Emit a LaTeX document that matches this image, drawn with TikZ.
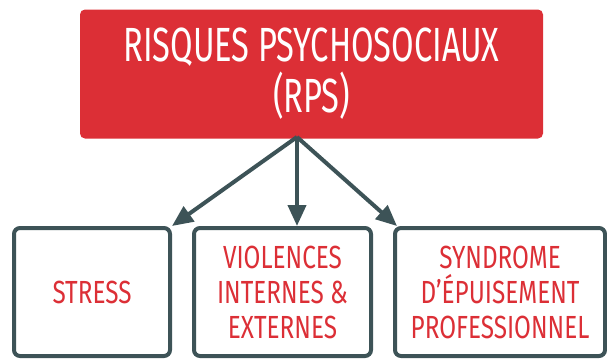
\documentclass[tikz,border=0pt]{standalone}
\usepackage{fontspec}
\setmainfont{Fira Sans}[FakeStretch=0.68]
\newfontfamily\riskfont{Fira Sans}[FakeStretch=0.76]
\usetikzlibrary{arrows.meta}
\definecolor{rpsred}{HTML}{DC2F36}
\definecolor{slate}{HTML}{3D5357}

\begin{document}
\begin{tikzpicture}[x=1pt, y=-1pt,
		mainbox/.style={rectangle, rounded corners=5pt, fill=rpsred, text=white, align=center, font=\fontsize{48}{51}\selectfont},
		riskbox/.style={rectangle, rounded corners=6pt, draw=slate, line width=4pt, fill=white, text=rpsred, align=center, minimum height=128pt, font=\riskfont\fontsize{32}{35}\selectfont},
		link/.style={-{Triangle[length=21pt, width=18pt]}, line width=4pt, slate}]
		\useasboundingbox (0,0) rectangle (607,360);
		
		% Main box
		\node[mainbox, minimum width=463pt, minimum height=129pt] (rps) at (311.5, 74) {RISQUES PSYCHOSOCIAUX\\(RPS)};
		\coordinate (hub) at (297, 137);
		% Risks
		\node[riskbox, minimum width=156pt] (stress) at (92, 292) {STRESS};
		\node[riskbox, minimum width=177pt] (violences) at (282.5, 292) {VIOLENCES\\INTERNES \&\\EXTERNES};
		\node[riskbox, minimum width=210pt] (burnout) at (500, 292) {SYNDROME\\D’ÉPUISEMENT\\PROFESSIONNEL};
		% Connect
		\draw[link] (hub) -- (stress.north east);
		\draw[link] (hub) -- (violences.north -| hub);
		\draw[link] (hub) -- ([xshift=4pt]burnout.north west);
		
	\end{tikzpicture}
\end{document}
